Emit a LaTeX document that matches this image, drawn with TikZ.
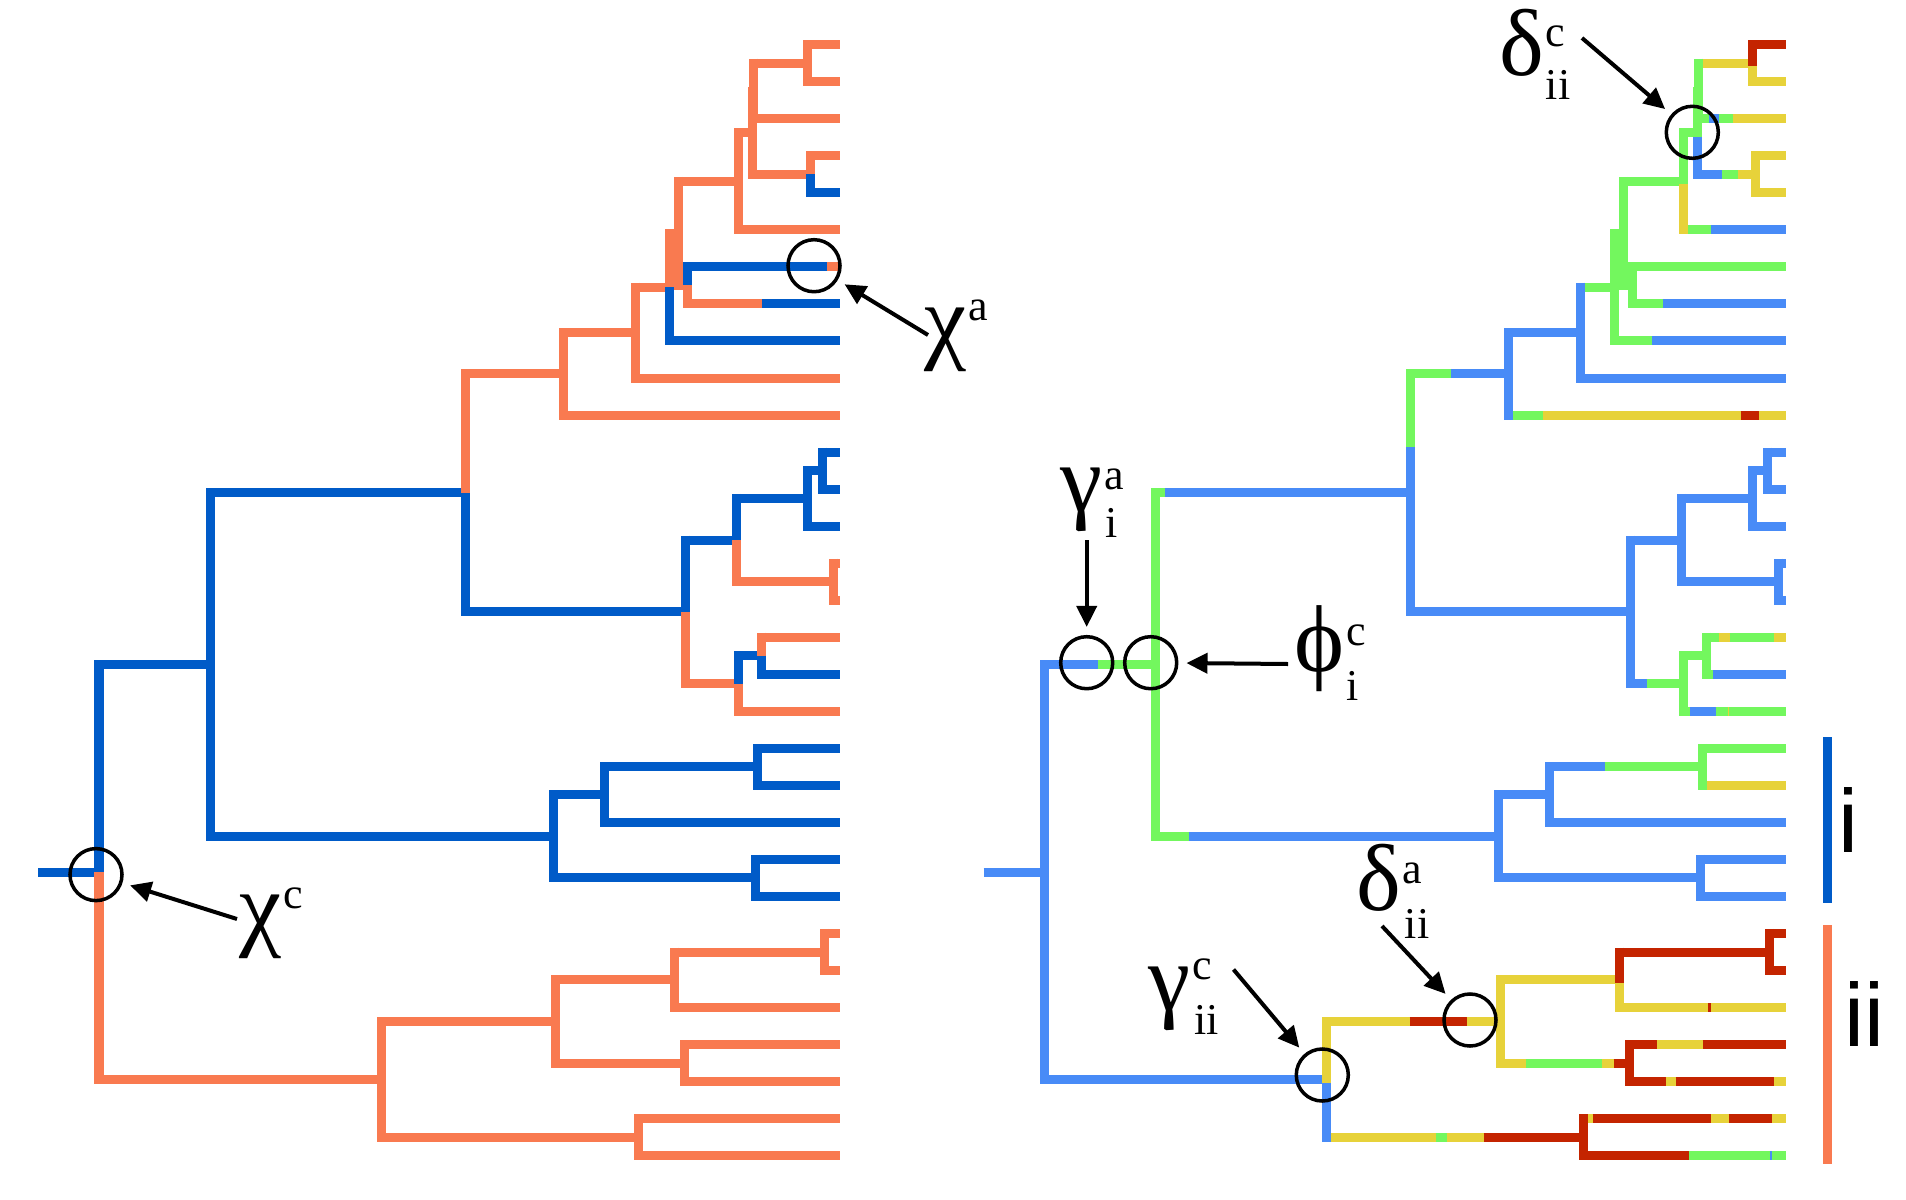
\documentclass[tikz,border=0pt]{standalone}
\usepackage{fontspec}
\setmainfont{Liberation Serif}
\newfontfamily\sanslabel{Liberation Sans}
\usetikzlibrary{arrows.meta, positioning}
\definecolor{myblue}{RGB}{0,91,200}
\definecolor{myorange}{RGB}{249,122,80}
\definecolor{mysky}{RGB}{72,139,247}
\definecolor{mygreen}{RGB}{115,247,94}
\definecolor{myyellow}{RGB}{231,210,58}
\definecolor{myred}{RGB}{196,36,0}
\tikzset{
    branch/.style={line width=0.09cm, line cap=butt},
    ring/.style={circle, draw=black, line width=0.035cm, minimum size=0.52cm, inner sep=0pt},
    pointer/.style={-{Triangle[length=0.21cm,width=0.2cm]}, line width=0.04cm, shorten >=0.08cm},
    glyph/.style={font=\fontsize{27}{27}\selectfont, inner sep=0pt, anchor=base west},
    idx/.style={font=\fontsize{12.5}{12.5}\selectfont, inner sep=0pt, anchor=base west},
    clade/.style={font=\sanslabel\fontsize{25.5}{25.5}\selectfont, inner sep=0pt, anchor=base west},
}
% horizontal branch: colour, y, x from, x to
\newcommand{\branchH}[4]{\draw[branch,#1] (#3,#2) -- (#4,#2);}
% vertical branch: colour, x, y top, y bottom
\newcommand{\branchV}[4]{\draw[branch,#1] (#2,{#3-4.5}) -- (#2,{#4+4.5});}
% vertical branch in two colours: x, y top, y split, y bottom, colour top, colour bottom
\newcommand{\branchVV}[6]{\draw[branch,#5] (#1,{#2-4.5}) -- (#1,#3); \draw[branch,#6] (#1,#3) -- (#1,{#4+4.5});}
\begin{document}
\begin{tikzpicture}[x=0.01cm, y=-0.01cm]
  \useasboundingbox (0,0) rectangle (1906,1200);
  % left tree
  \begin{scope}
    \branchH{myblue}{872.0}{38}{99}
    \branchH{myblue}{664.6}{99}{210}
    \branchH{myorange}{1079.3}{99}{381}
    \branchH{myblue}{492.8}{210}{465}
    \branchH{myblue}{836.3}{210}{553}
    \branchH{myorange}{373.8}{465}{563}
    \branchH{myblue}{611.8}{465}{685}
    \branchH{myorange}{415.0}{563}{840}
    \branchH{myorange}{332.6}{563}{635}
    \branchH{myorange}{378.0}{635}{840}
    \branchH{myorange}{287.2}{635}{669}
    \branchH{myblue}{340.9}{669}{840}
    \branchH{myorange}{233.4}{669}{678}
    \branchH{myorange}{181.3}{678}{738}
    \branchH{myorange}{285.4}{678}{687}
    \branchH{myblue}{266.9}{687}{827} \branchH{myorange}{266.9}{827}{840}
    \branchH{myorange}{303.9}{687}{762} \branchH{myblue}{303.9}{762}{840}
    \branchH{myorange}{229.9}{738}{840}
    \branchH{myorange}{132.7}{738}{752}
    \branchH{myorange}{174.3}{752}{810}
    \branchH{myorange}{155.8}{810}{840} \branchH{myblue}{192.8}{810}{840}
    \branchH{myorange}{63.2}{753}{807}
    \branchH{myorange}{44.7}{807}{840} \branchH{myorange}{81.7}{807}{840}
    \branchH{myorange}{118.8}{753}{840}
    \branchH{myblue}{540.1}{685}{736}
    \branchH{myblue}{498.4}{736}{807}
    \branchH{myblue}{470.6}{807}{822}
    \branchH{myblue}{452.0}{822}{840} \branchH{myblue}{489.1}{822}{840}
    \branchH{myblue}{526.1}{807}{840}
    \branchH{myorange}{581.7}{736}{833}
    \branchH{myorange}{563.1}{833}{840} \branchH{myorange}{600.2}{833}{840}
    \branchH{myorange}{683.5}{685}{738}
    \branchH{myorange}{711.2}{738}{840}
    \branchH{myblue}{655.7}{738}{761}
    \branchH{myorange}{637.2}{761}{840} \branchH{myblue}{674.2}{761}{840}
    \branchH{myblue}{794.6}{553}{604}
    \branchH{myblue}{766.8}{604}{757}
    \branchH{myblue}{748.3}{757}{840} \branchH{myblue}{785.3}{757}{840}
    \branchH{myblue}{822.3}{604}{840}
    \branchH{myblue}{877.9}{553}{755}
    \branchH{myblue}{859.4}{755}{840} \branchH{myblue}{896.4}{755}{840}
    \branchH{myorange}{1021.5}{381}{555}
    \branchH{myorange}{979.8}{555}{674}
    \branchH{myorange}{952.0}{674}{824}
    \branchH{myorange}{933.4}{824}{840} \branchH{myorange}{970.5}{824}{840}
    \branchH{myorange}{1007.5}{674}{840}
    \branchH{myorange}{1063.1}{555}{684}
    \branchH{myorange}{1044.5}{684}{840} \branchH{myorange}{1081.6}{684}{840}
    \branchH{myorange}{1137.1}{381}{638}
    \branchH{myorange}{1118.6}{638}{840} \branchH{myorange}{1155.6}{638}{840}
    \branchVV{99}{664.6}{872.0}{1079.3}{myblue}{myorange}
    \branchV{myblue}{210}{492.8}{836.3}
    \branchVV{465}{373.8}{492.8}{611.8}{myorange}{myblue}
    \branchV{myorange}{563}{332.6}{415.0}
    \branchV{myorange}{635}{287.2}{378.0}
    \branchVV{669}{233.4}{287.2}{340.9}{myorange}{myblue}
    \branchV{myorange}{678}{181.3}{285.4}
    \branchVV{687}{266.9}{285.4}{303.9}{myblue}{myorange}
    \branchV{myorange}{738}{132.7}{229.9}
    \branchV{myorange}{753}{63.2}{118.8}
    \branchV{myorange}{752}{91.0}{174.3}
    \branchV{myorange}{807}{44.7}{81.7}
    \branchVV{810}{155.8}{174.3}{192.8}{myorange}{myblue}
    \branchVV{685}{540.1}{611.8}{683.5}{myblue}{myorange}
    \branchVV{736}{498.4}{540.1}{581.7}{myblue}{myorange}
    \branchV{myblue}{807}{470.6}{526.1}
    \branchV{myblue}{822}{452.0}{489.1}
    \branchV{myorange}{833}{563.1}{600.2}
    \branchVV{738}{655.7}{683.5}{711.2}{myblue}{myorange}
    \branchVV{761}{637.2}{655.7}{674.2}{myorange}{myblue}
    \branchV{myblue}{553}{794.6}{877.9}
    \branchV{myblue}{604}{766.8}{822.3}
    \branchV{myblue}{757}{748.3}{785.3}
    \branchV{myblue}{755}{859.4}{896.4}
    \branchV{myorange}{381}{1021.5}{1137.1}
    \branchV{myorange}{555}{979.8}{1063.1}
    \branchV{myorange}{674}{952.0}{1007.5}
    \branchV{myorange}{824}{933.4}{970.5}
    \branchV{myorange}{684}{1044.5}{1081.6}
    \branchV{myorange}{638}{1118.6}{1155.6}
  \end{scope}
  % right tree, same shape
  \begin{scope}[xshift=9.45cm]
    \branchH{mysky}{872.0}{38}{99}
    \branchH{mysky}{664.6}{99}{152} \branchH{mygreen}{664.6}{152}{210}
    \branchH{mysky}{1079.3}{99}{381}
    \branchH{mygreen}{492.8}{210}{219} \branchH{mysky}{492.8}{219}{465}
    \branchH{mygreen}{836.3}{210}{243} \branchH{mysky}{836.3}{243}{553}
    \branchH{mygreen}{373.8}{465}{505} \branchH{mysky}{373.8}{505}{563}
    \branchH{mysky}{611.8}{465}{685}
    \branchH{mygreen}{415.0}{563}{597} \branchH{myyellow}{415.0}{597}{795}
    \branchH{myred}{415.0}{795}{813} \branchH{myyellow}{415.0}{813}{840}
    \branchH{mysky}{332.6}{563}{635}
    \branchH{mysky}{378.0}{635}{840}
    \branchH{mygreen}{287.2}{635}{669}
    \branchH{mygreen}{340.9}{669}{706} \branchH{mysky}{340.9}{706}{840}
    \branchH{mygreen}{233.4}{669}{678}
    \branchH{mygreen}{181.3}{678}{738}
    \branchH{mygreen}{285.4}{678}{687}
    \branchH{mygreen}{266.9}{687}{840}
    \branchH{mygreen}{303.9}{687}{717} \branchH{mysky}{303.9}{717}{840}
    \branchH{mygreen}{229.9}{738}{765} \branchH{mysky}{229.9}{765}{840}
    \branchH{mygreen}{132.7}{738}{752}
    \branchH{mysky}{174.3}{752}{776} \branchH{mygreen}{174.3}{776}{792} \branchH{myyellow}{174.3}{792}{810}
    \branchH{myyellow}{155.8}{810}{840} \branchH{myyellow}{192.8}{810}{840}
    \branchH{myyellow}{63.2}{753}{807}
    \branchH{myred}{44.7}{807}{840} \branchH{myyellow}{81.7}{807}{840}
    \branchH{mygreen}{118.8}{753}{763} \branchH{mysky}{118.8}{763}{773}
    \branchH{mygreen}{118.8}{773}{787} \branchH{myyellow}{118.8}{787}{840}
    \branchH{mysky}{540.1}{685}{736}
    \branchH{mysky}{498.4}{736}{807}
    \branchH{mysky}{470.6}{807}{822}
    \branchH{mysky}{452.0}{822}{840} \branchH{mysky}{489.1}{822}{840}
    \branchH{mysky}{526.1}{807}{840}
    \branchH{mysky}{581.7}{736}{833}
    \branchH{mysky}{563.1}{833}{840} \branchH{mysky}{600.2}{833}{840}
    \branchH{mysky}{683.5}{685}{701} \branchH{mygreen}{683.5}{701}{738}
    \branchH{mygreen}{711.2}{738}{744} \branchH{mysky}{711.2}{744}{770}
    \branchH{mygreen}{711.2}{770}{840} \branchH{myyellow}{711.2}{782}{783.5}
    \branchH{mygreen}{655.7}{738}{761}
    \branchH{mygreen}{637.2}{761}{773} \branchH{myyellow}{637.2}{773}{784}
    \branchH{mygreen}{637.2}{784}{828} \branchH{myyellow}{637.2}{828}{840}
    \branchH{mygreen}{674.2}{761}{767} \branchH{mysky}{674.2}{767}{840}
    \branchH{mysky}{794.6}{553}{604}
    \branchH{mysky}{766.8}{604}{659} \branchH{mygreen}{766.8}{659}{757}
    \branchH{mygreen}{748.3}{757}{840} \branchH{myyellow}{785.3}{757}{840}
    \branchH{mysky}{822.3}{604}{840}
    \branchH{mysky}{877.9}{553}{755}
    \branchH{mysky}{859.4}{755}{840} \branchH{mysky}{896.4}{755}{840}
    \branchH{myyellow}{1021.5}{381}{464} \branchH{myred}{1021.5}{464}{521} \branchH{myyellow}{1021.5}{521}{555}
    \branchH{myyellow}{979.8}{555}{674}
    \branchH{myred}{952.0}{674}{824}
    \branchH{myred}{933.4}{824}{840} \branchH{myred}{970.5}{824}{840}
    \branchH{myyellow}{1007.5}{674}{840} \branchH{myred}{1007.5}{762.5}{765}
    \branchH{myyellow}{1063.1}{555}{580} \branchH{mygreen}{1063.1}{580}{656}
    \branchH{myyellow}{1063.1}{656}{668} \branchH{myred}{1063.1}{668}{684}
    \branchH{myred}{1044.5}{684}{711} \branchH{myyellow}{1044.5}{711}{757} \branchH{myred}{1044.5}{757}{840}
    \branchH{myred}{1081.6}{684}{720} \branchH{myyellow}{1081.6}{720}{730}
    \branchH{myred}{1081.6}{730}{828} \branchH{myyellow}{1081.6}{828}{840}
    \branchH{myyellow}{1137.1}{381}{490} \branchH{mygreen}{1137.1}{490}{501}
    \branchH{myyellow}{1137.1}{501}{538} \branchH{myred}{1137.1}{538}{638}
    \branchH{myyellow}{1118.6}{638}{647} \branchH{myred}{1118.6}{647}{765} \branchH{myyellow}{1118.6}{765}{783}
    \branchH{myred}{1118.6}{783}{826} \branchH{myyellow}{1118.6}{826}{840}
    \branchH{myred}{1155.6}{638}{743} \branchH{mygreen}{1155.6}{743}{824}
    \branchH{mysky}{1155.6}{824}{826} \branchH{mygreen}{1155.6}{826}{840}
    \branchV{mysky}{99}{664.6}{1079.3}
    \branchV{mygreen}{210}{492.8}{836.3}
    \branchVV{465}{373.8}{447}{611.8}{mygreen}{mysky}
    \branchV{mysky}{563}{332.6}{415.0}
    \branchV{mysky}{635}{287.2}{378.0}
    \branchV{mygreen}{669}{233.4}{340.9}
    \branchV{mygreen}{678}{181.3}{285.4}
    \branchV{mygreen}{687}{266.9}{303.9}
    \branchVV{738}{132.7}{184}{229.9}{mygreen}{myyellow}
    \branchV{mygreen}{753}{63.2}{118.8}
    \branchVV{752}{91.0}{136.7}{174.3}{mygreen}{mysky}
    \branchVV{807}{44.7}{66}{81.7}{myred}{myyellow}
    \branchV{myyellow}{810}{155.8}{192.8}
    \branchV{mysky}{685}{540.1}{683.5}
    \branchV{mysky}{736}{498.4}{581.7}
    \branchV{mysky}{807}{470.6}{526.1}
    \branchV{mysky}{822}{452.0}{489.1}
    \branchV{mysky}{833}{563.1}{600.2}
    \branchV{mygreen}{738}{655.7}{711.2}
    \branchV{mygreen}{761}{637.2}{674.2}
    \branchV{mysky}{553}{794.6}{877.9}
    \branchV{mysky}{604}{766.8}{822.3}
    \branchV{mygreen}{757}{748.3}{785.3}
    \branchV{mysky}{755}{859.4}{896.4}
    \branchVV{381}{1021.5}{1083}{1137.1}{myyellow}{mysky}
    \branchV{myyellow}{555}{979.8}{1063.1}
    \branchVV{674}{952.0}{983}{1007.5}{myred}{myyellow}
    \branchV{myred}{824}{933.4}{970.5}
    \branchV{myred}{684}{1044.5}{1081.6}
    \branchV{myred}{638}{1118.6}{1155.6}
  \end{scope}
  % clade bars
  \draw[branch, myblue] (1827.5,737) -- (1827.5,903.4);
  \draw[branch, myorange] (1827.5,925) -- (1827.5,1164);
  \node[clade] (cli) at (1838,852.8) {i};
  \node[clade] (clii) at (1844,1046.6) {ii};
  % circled events
  \node[ring] (rxa) at (814,265.7) {};
  \node[ring] (rxc) at (96,874.6) {};
  \node[ring] (rgi) at (1086.7,662.7) {};
  \node[ring] (rfi) at (1150.7,662.7) {};
  \node[ring] (rdc) at (1692.3,132.3) {};
  \node[ring] (rda) at (1470,1020) {};
  \node[ring] (rgc) at (1322.3,1075) {};
  % labels, with their indices beside them
  \node[glyph] (xa) at (924,351) {χ};
  \node[idx] (xasup) at ([shift={(0,-31)}]xa.base east) {a};
  \node[glyph] (xc) at (239,938.5) {χ};
  \node[idx] (xcsup) at ([shift={(0,-30)}]xc.base east) {c};
  \node[glyph] (gi) at (1060,511) {γ};
  \node[idx] (gisup) at ([shift={(0,-22)}]gi.base east) {a};
  \node[idx] (gisub) at ([shift={(1,26)}]gi.base east) {i};
  \node[glyph] (fi) at (1294,671) {ϕ};
  \node[idx] (fisup) at ([shift={(0,-26)}]fi.base east) {c};
  \node[idx] (fisub) at ([shift={(0,29)}]fi.base east) {i};
  \node[glyph] (dc) at (1499,75) {δ};
  \node[idx] (dcsup) at ([shift={(0,-28)}]dc.base east) {c};
  \node[idx] (dcsub) at ([shift={(0,25)}]dc.base east) {ii};
  \node[glyph] (da) at (1356,910) {δ};
  \node[idx] (dasup) at ([shift={(0,-27)}]da.base east) {a};
  \node[idx] (dasub) at ([shift={(2,28)}]da.base east) {ii};
  \node[glyph] (gc) at (1148,1010) {γ};
  \node[idx] (gcsup) at ([shift={(0,-31)}]gc.base east) {c};
  \node[idx] (gcsub) at ([shift={(2,24)}]gc.base east) {ii};
  % arrows
  \coordinate (txa) at (928,335);
  \coordinate (txc) at (237,919);
  \coordinate (tgi) at (1086.7,540);
  \coordinate (tfi) at (1288,664);
  \coordinate (tdc) at (1582,38);
  \coordinate (tda) at (1382,926);
  \coordinate (tgc) at (1233.5,969.5);
  \draw[pointer] (txa) -- (rxa);
  \draw[pointer] (txc) -- (rxc);
  \draw[pointer] (tgi) -- (rgi);
  \draw[pointer] (tfi) -- (rfi);
  \draw[pointer] (tdc) -- (rdc);
  \draw[pointer] (tda) -- (rda);
  \draw[pointer] (tgc) -- (rgc);
\end{tikzpicture}
\end{document}
